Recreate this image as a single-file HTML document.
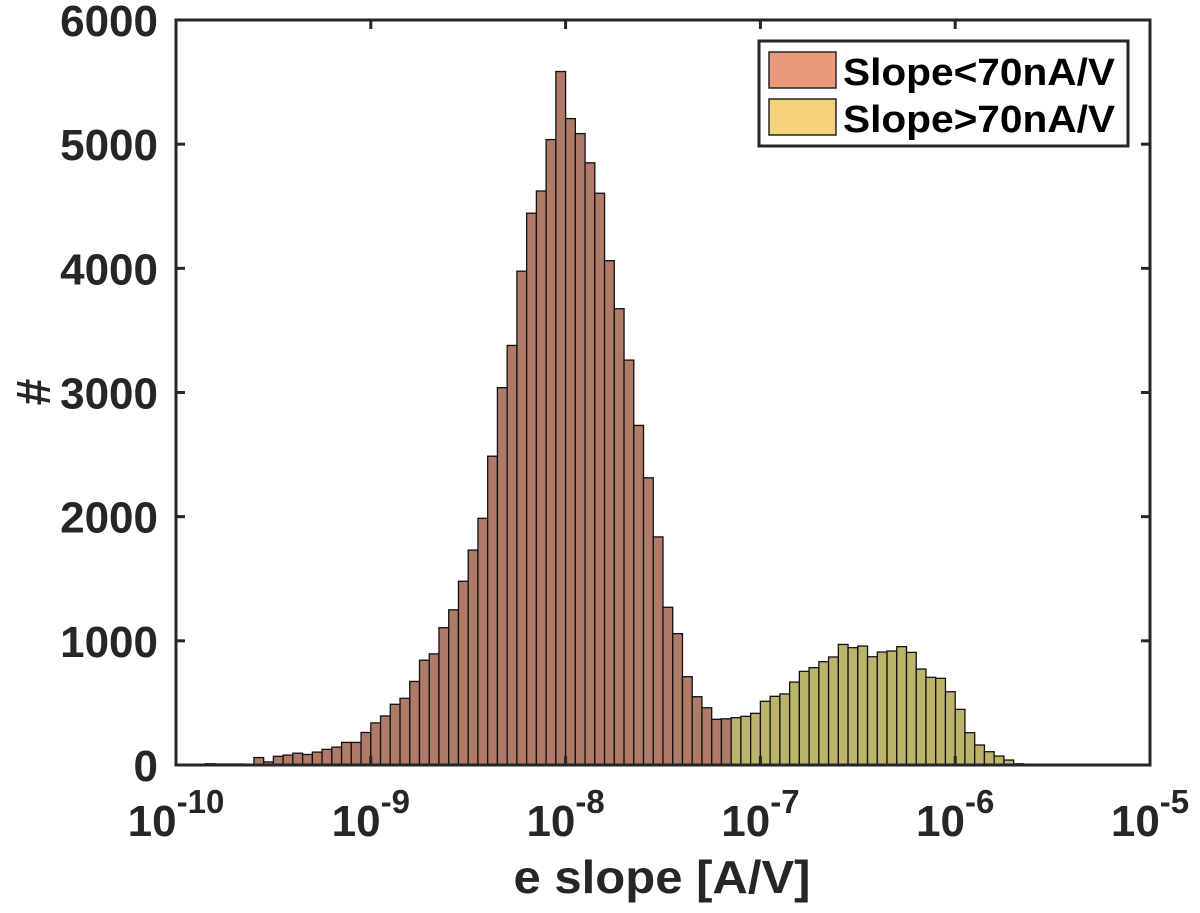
<!DOCTYPE html>
<html><head><meta charset="utf-8"><style>
html,body{margin:0;padding:0;background:#fff;}
svg{display:block;font-family:"Liberation Sans",Arial,sans-serif;font-weight:bold;}
</style></head><body>
<svg id="chart" width="1200" height="913" viewBox="0 0 1200 913" xmlns="http://www.w3.org/2000/svg">
<rect x="0" y="0" width="1200" height="913" fill="#fff"/>
<g id="bars"></g>
<g id="axes"></g>
<g id="legend">
  <rect x="759" y="41" width="369" height="105" fill="#fff" stroke="#262626" stroke-width="3"/>
  <rect x="769" y="52" width="67" height="36" fill="#e99a78" stroke="#262626" stroke-width="1.5"/>
  <text x="843" y="85" font-size="38" textLength="272" lengthAdjust="spacingAndGlyphs" fill="#000">Slope&lt;70nA/V</text>
  <rect x="769" y="99" width="67" height="36" fill="#f3d27a" stroke="#262626" stroke-width="1.5"/>
  <text x="843" y="132" font-size="38" textLength="272" lengthAdjust="spacingAndGlyphs" fill="#000">Slope&gt;70nA/V</text>
</g>
<text x="662" y="893" font-size="46" text-anchor="middle" textLength="297" lengthAdjust="spacingAndGlyphs" fill="#262626">e slope [A/V]</text>
<text transform="translate(50,392) rotate(-90)" font-size="48" text-anchor="middle" fill="#262626">#</text>
</svg>
<script>
// bin index (0.05 decade bins starting at 1e-10) and counts
const lowBins = [3,4,5,6,8,9,10,11,12,13,14,15,16,17,18,19,20,21,22,23,24,25,26,27,28,29,30,31,32,33,34,35,36,37,38,39,40,41,42,43,44,45,46,47,48,49,50,51,52,53,54,55,56];
const lowCounts = [10,8,8,8,60,25,70,80,95,85,104,126,144,182,182,262,339,395,489,537,673,844,895,1106,1250,1480,1731,1987,2487,3039,3379,3977,4444,4623,5037,5585,5206,5085,4850,4605,4062,3675,3261,2735,2313,1837,1270,1058,711,550,461,368,372];
const highBins = [57,58,59,60,61,62,63,64,65,66,67,68,69,70,71,72,73,74,75,76,77,78,79,80,81,82,83,84,85,86];
const highCounts = [381,392,416,513,553,572,668,754,784,832,870,971,945,958,872,910,918,953,907,773,706,698,590,448,260,161,107,72,40,10];
const binWidthDecades = 0.05;
const xMinExp = -10, xMaxExp = -5;
const yMax = 6000;
const yTicks = [0,1000,2000,3000,4000,5000,6000];
const xTickExps = [-10,-9,-8,-7,-6,-5];

const L=176, R=1150, T=20, B=765;
const NS="http://www.w3.org/2000/svg";
function xScale(exp){return L+(exp-xMinExp)/(xMaxExp-xMinExp)*(R-L);}
function yScale(v){return B-v/yMax*(B-T);}
function mk(tag,attrs,parent){const e=document.createElementNS(NS,tag);for(const k in attrs)e.setAttribute(k,attrs[k]);parent.appendChild(e);return e;}

const bars=document.getElementById('bars');
function drawSeries(bins,counts,fill,name){
  bins.forEach((b,i)=>{
    const x0=xScale(xMinExp+b*binWidthDecades), x1=xScale(xMinExp+(b+1)*binWidthDecades);
    const y=yScale(counts[i]);
    const r=mk('rect',{x:x0,y:y,width:x1-x0,height:B-y,fill:fill,stroke:'#111','stroke-width':1.3},bars);
    
    
  });
}
drawSeries(lowBins,lowCounts,'#af7a67','low-slope');
drawSeries(highBins,highCounts,'#bdb46c','high-slope');

const ax=document.getElementById('axes');
const frame=mk('rect',{x:L,y:T,width:R-L,height:B-T,fill:'none',stroke:'#262626','stroke-width':3},ax);


yTicks.forEach(v=>{
  const y=yScale(v);
  mk('line',{x1:L,x2:L+9,y1:y,y2:y,stroke:'#262626','stroke-width':3},ax);
  mk('line',{x1:R,x2:R-9,y1:y,y2:y,stroke:'#262626','stroke-width':3},ax);
  const t=mk('text',{x:158,y:y+16,'font-size':44,'text-anchor':'end',fill:'#262626'},ax);
  t.textContent=v;
  
  
});
xTickExps.forEach(e=>{
  const x=xScale(e);
  mk('line',{x1:x,x2:x,y1:B,y2:B-9,stroke:'#262626','stroke-width':3},ax);
  mk('line',{x1:x,x2:x,y1:T,y2:T+9,stroke:'#262626','stroke-width':3},ax);
  const t=mk('text',{x:x,y:836,'font-size':44,'text-anchor':'middle',fill:'#262626'},ax);
  
  
  const a=mk('tspan',{},t);a.textContent='10';
  const s=mk('tspan',{'font-size':33,dy:-23},t);s.textContent=String(e);
});
</script>
</body></html>
